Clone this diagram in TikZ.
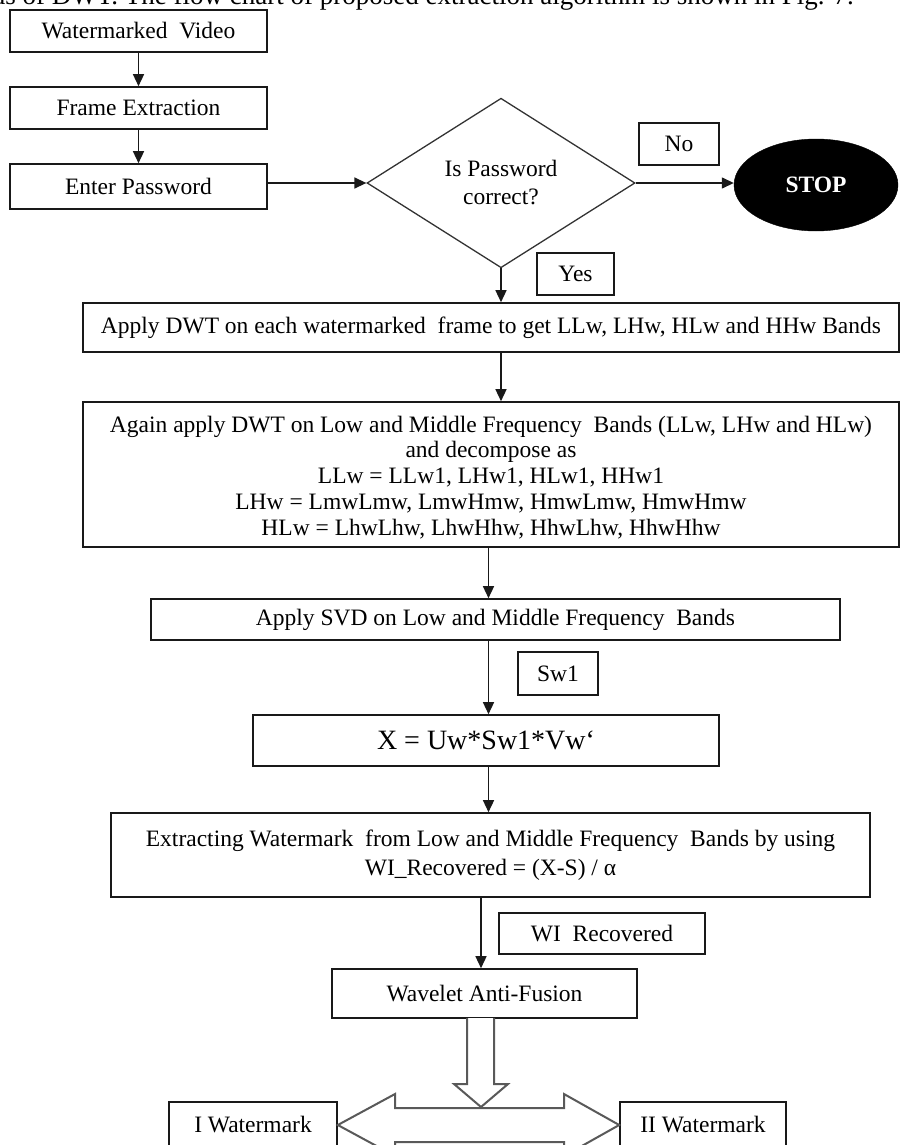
\documentclass[tikz,border=0pt]{standalone}
\usepackage{fontspec}
\setmainfont{Liberation Serif}
\usetikzlibrary{arrows.meta,shapes.geometric}

\tikzset{
  box/.style={draw=black!90, line width=1.6pt, inner sep=0pt, align=center,
    font=\fontsize{23.5}{25.8}\selectfont},
  tag/.style={box, line width=1.4pt},
  flow/.style={draw=black!90, line width=1.4pt, -{Triangle[length=12pt,width=11pt]}},
  hollow/.style={draw=black!65, line width=2pt, line join=miter}
}

\begin{document}
\begin{tikzpicture}[x=1pt,y=-1pt]
  \useasboundingbox (0,0) rectangle (902,1145);
  \clip (0,0) rectangle (902,1145);

  % running text above the chart
  \node[anchor=base east, inner sep=0pt, font=\fontsize{27}{30}\selectfont]
    (lead) at (854,5) {bands of DWT. The flow chart of proposed extraction algorithm is shown in Fig. 7.};

  % input stage
  \node[box, minimum width=257pt, minimum height=42pt] (b1) at (138.5,31) {Watermarked\ \ Video};
  \node[box, minimum width=257pt, minimum height=42pt] (b2) at (138.5,108) {Frame Extraction};
  \node[box, minimum width=257pt, minimum height=45pt] (b3) at (138.5,186.5) {Enter Password};

  % password check
  \node[diamond, draw=black!80, line width=1.3pt, inner sep=3pt, align=center,
    minimum width=268pt, minimum height=140pt,
    font=\fontsize{23.5}{28}\selectfont] (dia) at (501,183) {Is Password\\correct?};
  \node[ellipse, fill=black, draw=black, minimum width=164pt, minimum height=92pt,
    text=white, font=\fontsize{23.5}{25.8}\selectfont\bfseries] (stop) at (816,185) {STOP};
  \node[tag, minimum width=80pt, minimum height=42pt] (no) at (679,144) {No};
  \node[tag, minimum width=77pt, minimum height=42pt] (yes) at (575.5,274) {Yes};

  % decomposition stages
  \node[box, minimum width=816pt, minimum height=49pt] (b4) at (491,327.5)
    {Apply DWT on each watermarked\ \ frame to get LLw, LHw, HLw and HHw Bands};
  \node[box, minimum width=816pt, minimum height=145pt] (b5) at (491,474.5)
    {\rule{0pt}{22pt}Again apply DWT on Low and Middle Frequency\ \ Bands (LLw, LHw and HLw)\\
     and decompose as\\
     LLw = LLw1, LHw1, HLw1, HHw1\\
     LHw = LmwLmw, LmwHmw, HmwLmw, HmwHmw\\
     HLw = LhwLhw, LhwHhw, HhwLhw, HhwHhw};
  \node[box, minimum width=689pt, minimum height=41pt] (b6) at (495.5,619.5)
    {Apply SVD on Low and Middle Frequency\ \ Bands};
  \node[tag, minimum width=80pt, minimum height=43pt] (sw) at (558,673.5) {Sw1};
  \node[box, minimum width=466pt, minimum height=51pt, font=\fontsize{28}{32}\selectfont]
    (b7) at (486,740.5) {X = Uw*Sw1*Vw`};
  \node[box, minimum width=759pt, minimum height=84pt, font=\fontsize{23.5}{29}\selectfont]
    (b8) at (490.5,855) {Extracting Watermark\ \ from Low and Middle Frequency\ \ Bands by using\\
     WI\_Recovered = (X-S) / α};
  \node[tag, minimum width=206pt, minimum height=41pt] (wi) at (602,933.5) {WI\ \ Recovered};
  \node[box, minimum width=305pt, minimum height=49pt] (wav) at (484.5,993.5) {Wavelet Anti-Fusion};

  % outputs
  \node[box, minimum width=168pt, minimum height=46pt] (wm1) at (253,1125) {I Watermark};
  \node[box, minimum width=166pt, minimum height=46pt] (wm2) at (703,1125) {II Watermark};

  % connector columns
  \coordinate (colA) at (488.5,0);
  \coordinate (colB) at (481,0);

  % connectors
  \draw[flow] (b1.south) -- (b2.north);
  \draw[flow] (b2.south) -- (b3.north);
  \draw[flow] (b3.east |- dia.west) -- (dia.west);
  \draw[flow] (dia.east) -- (dia.east -| stop.west);
  \draw[flow] (dia.south) -- (dia.south |- b4.north);
  \draw[flow] (b4.south -| dia.south) -- (b5.north -| dia.south);
  \draw[flow] (b5.south -| colA) -- (b6.north -| colA);
  \draw[flow] (b6.south -| colA) -- (b7.north -| colA);
  \draw[flow] (b7.south -| colA) -- (b8.north -| colA);
  \draw[flow] (b8.south -| colB) -- (wav.north -| colB);

  % hollow block arrow down from the anti-fusion step
  \draw[hollow, fill=white] (467,1018) -- (467,1084) -- (454,1084) -- (481,1107)
    -- (508,1084) -- (494,1084) -- (494,1018);

  % hollow double arrow to both recovered watermarks
  \draw[hollow, fill=white] (wm1.east |- 0,1125) -- (395,1094) -- (395,1108) -- (564,1108)
    -- (564,1094) -- (wm2.west |- 0,1125) -- (564,1156) -- (564,1142)
    -- (395,1142) -- (395,1156) -- cycle;
\end{tikzpicture}
\end{document}
